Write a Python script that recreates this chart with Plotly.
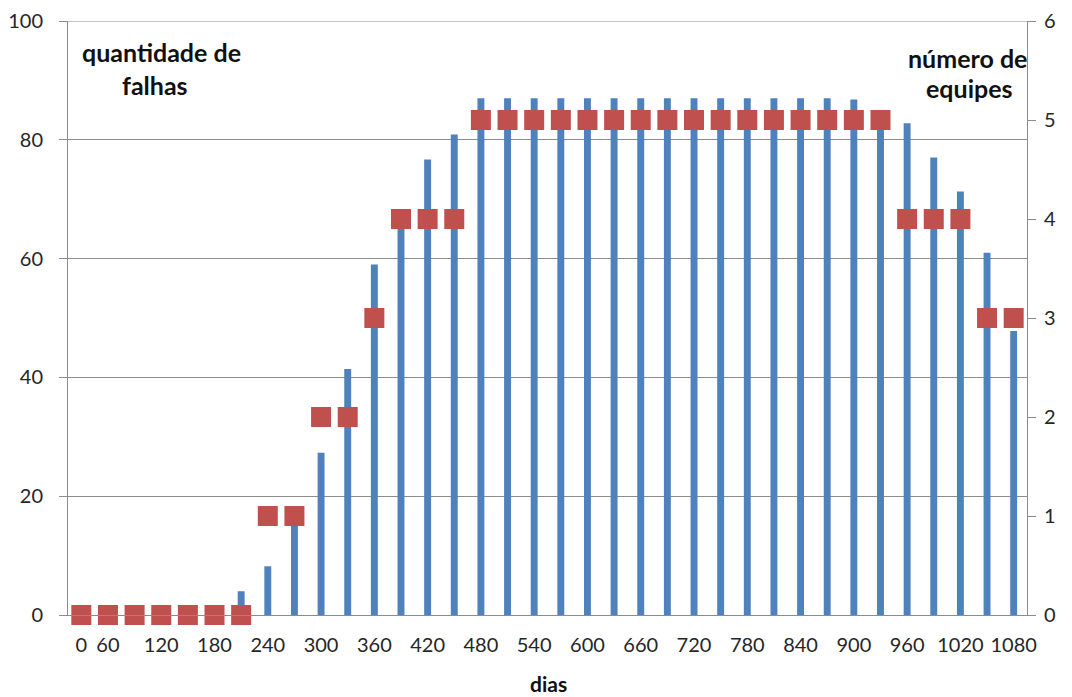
import plotly.graph_objects as go

# Failures per period (left axis) and number of teams (right axis)
falhas = [0, 0, 0, 0, 0, 0, 4.0, 8.2, 16.5, 27.3, 41.4, 59.0, 67.0, 76.7, 80.9,
          87.0, 87.0, 87.0, 87.0, 87.0, 87.0, 87.0, 87.0, 87.0, 87.0, 87.0, 87.0,
          87.0, 87.0, 86.8, 85.0, 82.8, 77.0, 71.3, 61.0, 47.8]
equipes = [0, 0, 0, 0, 0, 0, 0, 1, 1, 2, 2, 3, 4, 4, 4,
           5, 5, 5, 5, 5, 5, 5, 5, 5, 5, 5, 5, 5, 5, 5, 5,
           4, 4, 4, 3, 3]

# Day labels shown under the category axis
tick_pos = [0, 1, 3, 5, 7, 9, 11, 13, 15, 17, 19, 21, 23, 25, 27, 29, 31, 33, 35]
tick_text = ["0", "60", "120", "180", "240", "300", "360", "420", "480", "540",
             "600", "660", "720", "780", "840", "900", "960", "1020", "1080"]

x = list(range(len(falhas)))

BAR = "#4F81BD"
MARK = "#C0504D"
GRID = "#8C8C8C"
TXT = "#262626"
FONT = "Lato"

W, H = 1072, 697
ML, MR, MT, MB = 68, 45, 21, 82

fig = go.Figure()
fig.add_trace(go.Bar(x=x, y=falhas, width=0.26, marker=dict(color=BAR, line=dict(width=0)),
                     name="quantidade de falhas", yaxis="y"))
fig.add_trace(go.Scatter(x=x, y=equipes, mode="markers", yaxis="y2", cliponaxis=False,
                         marker=dict(symbol="square", size=20, color=MARK, line=dict(width=0)),
                         name="número de equipes"))


def px_note(text, px, py, size):
    # place a bold label at a pixel position of the page
    return dict(text="<b>%s</b>" % text,
                x=(px - ML) / (W - ML - MR), y=(H - py - MB) / (H - MT - MB),
                xref="paper", yref="paper", xanchor="center", yanchor="middle",
                showarrow=False, borderpad=0,
                font=dict(family=FONT, size=size, color="#111"))


fig.update_layout(
    width=W, height=H,
    margin=dict(l=ML, r=MR, t=MT, b=MB, autoexpand=False),
    paper_bgcolor="white", plot_bgcolor="white",
    showlegend=False,
    font=dict(family=FONT, size=20, color=TXT),
    xaxis=dict(range=[-0.5, 35.5], tickmode="array", tickvals=tick_pos, ticktext=tick_text,
               showgrid=False, zeroline=False, showline=True, linecolor=GRID, linewidth=1,
               ticks="", ticklabelstandoff=12, automargin=False,
               tickfont=dict(size=20, color=TXT)),
    yaxis=dict(range=[0, 100], dtick=20, showgrid=True, gridcolor=GRID, gridwidth=1,
               zeroline=False, showline=True, linecolor=GRID, linewidth=1, automargin=False,
               ticks="outside", ticklen=8, tickcolor=GRID, ticklabelstandoff=12,
               tickfont=dict(size=20, color=TXT)),
    yaxis2=dict(range=[0, 6], dtick=1, overlaying="y", side="right", showgrid=False,
                zeroline=False, showline=True, linecolor=GRID, linewidth=1, automargin=False,
                ticks="outside", ticklen=8, tickcolor=GRID, ticklabelstandoff=4,
                tickfont=dict(size=20, color=TXT)),
    shapes=[dict(type="line", xref="paper", yref="y", x0=0, x1=1, y0=100, y1=100,
                 line=dict(color=GRID, width=1), layer="below")],
    annotations=[
        px_note("quantidade de", 161, 52, 25),
        px_note("falhas", 155, 85, 25),
        px_note("número de", 967, 58, 25),
        px_note("equipes", 969, 88, 25),
        px_note("dias", 548, 683, 21),
    ],
)

fig.write_html("out.html")
